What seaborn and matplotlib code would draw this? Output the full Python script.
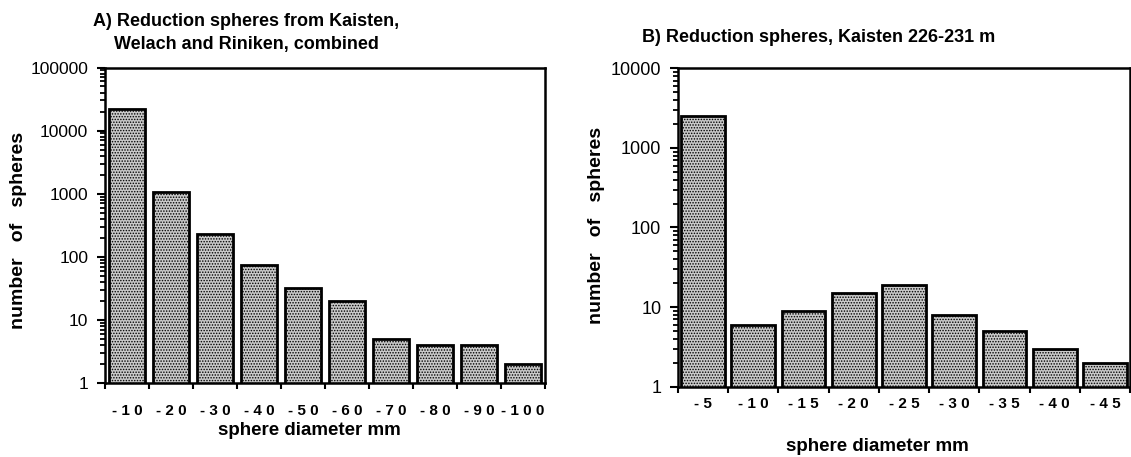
import numpy as np
import pandas as pd
import matplotlib
matplotlib.use("Agg")
import matplotlib.pyplot as plt
from matplotlib.ticker import FixedLocator, LogLocator, NullFormatter, FuncFormatter
import seaborn as sns

# Size classes (upper bound of sphere diameter, mm) and counts
classes_a = ["-10", "-20", "-30", "-40", "-50", "-60", "-70", "-80", "-90", "-100"]
counts_a = [22000, 1050, 230, 73, 32, 20, 5, 4, 4, 2]

classes_b = ["-5", "-10", "-15", "-20", "-25", "-30", "-35", "-40", "-45"]
counts_b = [2500, 6, 9, 15, 19, 8, 5, 3, 2]

title_a = "A) Reduction spheres from Kaisten,\nWelach and Riniken, combined"
title_b = "B) Reduction spheres, Kaisten 226-231 m"
xlabel = "sphere diameter mm"
ylabel = "number   of   spheres"

sns.set_theme(style="ticks")
plt.rcParams["font.family"] = ["Liberation Sans", "DejaVu Sans"]
plt.rcParams["hatch.linewidth"] = 0.7
plt.rcParams["hatch.color"] = "#4a4a4a"

fig = plt.figure(figsize=(11.31, 4.57), dpi=100)
W, H = 1131, 457


def px_axes(left, top, right, bottom):
    return fig.add_axes([left / W, 1 - bottom / H, (right - left) / W, (bottom - top) / H])


def spaced(s):
    return " ".join(s)


def draw_panel(ax, classes, counts, ymax, bar_width, xtick_pad, ytick_size):
    df = pd.DataFrame({"cls": classes, "n": counts})
    sns.barplot(data=df, x="cls", y="n", ax=ax, color="#c9c9c9",
                edgecolor="black", linewidth=2.0, width=bar_width, saturation=1)
    ax.set_yscale("log", nonpositive="clip")
    # stippled fill
    for p in ax.patches:
        p.set_hatch("......")
    n = len(classes)
    ax.set_xlim(-0.5, n - 0.5)
    ax.set_ylim(1, ymax)

    # category labels centred, tick marks on class boundaries
    ax.set_xticks(np.arange(n))
    ax.set_xticklabels([spaced(c) for c in classes], fontweight="bold", fontsize=11)
    ax.xaxis.set_minor_locator(FixedLocator(np.arange(n + 1) - 0.5))
    ax.tick_params(axis="x", which="major", length=0, pad=xtick_pad)
    ax.tick_params(axis="x", which="minor", direction="out", length=4, width=1.5, color="black")

    ax.yaxis.set_major_locator(LogLocator(base=10, numticks=10))
    ax.yaxis.set_minor_locator(LogLocator(base=10, subs=np.arange(2, 10), numticks=10))
    ax.yaxis.set_minor_formatter(NullFormatter())
    ax.yaxis.set_major_formatter(FuncFormatter(lambda v, _: f"{int(round(v))}"))
    ax.tick_params(axis="y", which="major", direction="out", length=6, width=1.5,
                   pad=6, labelsize=ytick_size, color="black")
    ax.tick_params(axis="y", which="minor", direction="out", length=3.5, width=1.3, color="black")

    for s in ax.spines.values():
        s.set_visible(True)
        s.set_linewidth(1.8)
        s.set_color("black")
    ax.grid(False)
    ax.set_facecolor("white")
    for lab in ax.get_yticklabels() + ax.get_xticklabels():
        lab.set_color("black")


ax_a = px_axes(105, 67.5, 545, 383)
draw_panel(ax_a, classes_a, counts_a, 100000, 0.82, 15, 12.5)
ax_a.set_xlabel(xlabel, fontweight="bold", fontsize=13.5, color="black")
ax_a.xaxis.set_label_coords((309 - 105) / 440, (383 - 422) / 315.5)
ax_a.set_ylabel(ylabel, fontweight="bold", fontsize=14, color="black")
ax_a.yaxis.set_label_coords((27 - 105) / 440, (383 - 230) / 315.5)

ax_b = px_axes(678, 68.3, 1130, 386.7)
draw_panel(ax_b, classes_b, counts_b, 10000, 0.87, 7.5, 13)
ax_b.set_xlabel(xlabel, fontweight="bold", fontsize=13.5, color="black")
ax_b.xaxis.set_label_coords((877 - 678) / 452, (386.7 - 438) / 318.4)
ax_b.set_ylabel(ylabel, fontweight="bold", fontsize=14, color="black")
ax_b.yaxis.set_label_coords((605 - 678) / 452, (386.7 - 225) / 318.4)

fig.text(246 / W, 1 - 33 / H, title_a, ha="center", va="center",
         fontweight="bold", fontsize=13, linespacing=1.4, color="black")
fig.text(819 / W, 1 - 37 / H, title_b, ha="center", va="center",
         fontweight="bold", fontsize=13, color="black")

fig.savefig("out.png", dpi=100, facecolor="white")
